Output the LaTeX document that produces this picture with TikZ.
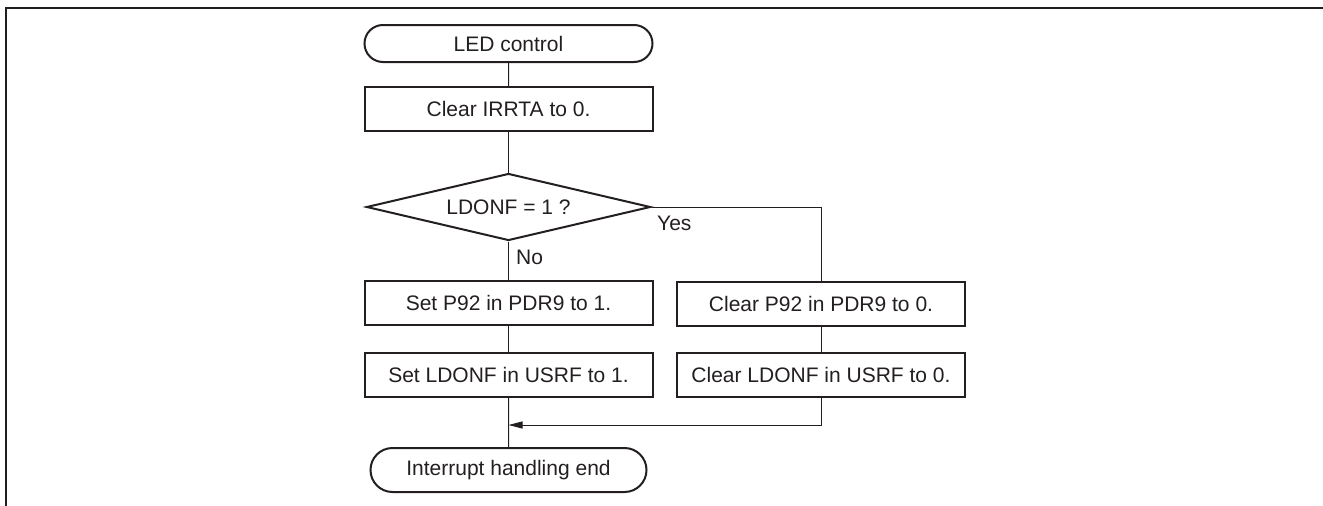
\documentclass[tikz,border=0pt]{standalone}
\usepackage{fontspec}
\setmainfont{Liberation Sans}
\usetikzlibrary{shapes.geometric,shapes.misc,arrows.meta}
\definecolor{ink}{HTML}{231F20}
\begin{document}
\begin{tikzpicture}[x=1pt,y=-1pt,
  every node/.style={font=\fontsize{21}{25}\selectfont, text=ink},
  term/.style={rounded rectangle, draw=ink, line width=2pt, inner sep=0pt},
  proc/.style={rectangle, draw=ink, line width=2pt, inner sep=0pt,
               minimum width=288pt, minimum height=44pt},
  dec/.style={diamond, aspect=4.2, draw=ink, line width=2pt, inner sep=0pt,
              minimum width=284pt, minimum height=67pt},
  flow/.style={draw=ink, line width=1pt},
  lbl/.style={inner sep=0pt, anchor=west}
]
\useasboundingbox (0,0) rectangle (1323,506);

% open frame along the top and left edges
\draw[ink, line width=2.3pt] (6,520) -- (6,8) -- (1340,8);

% flowchart nodes
\node[term, minimum width=288pt, minimum height=37pt] (start) at (508.5,43.5) {LED control};
\node[proc] (irr)  at (508.5,109)   {Clear IRRTA to 0.};
\node[dec]  (chk)  at (508.5,207)   {LDONF = 1 ?};
\node[proc] (setp) at (508.5,302.5) {Set P92 in PDR9 to 1.};
\node[proc] (setl) at (508.5,374.5) {Set LDONF in USRF to 1.};
\node[proc] (clrp) at (821,303.5)   {Clear P92 in PDR9 to 0.};
\node[proc] (clrl) at (821,374.5)   {Clear LDONF in USRF to 0.};
\node[term, minimum width=276pt, minimum height=44pt] (fin) at (508.5,470) {Interrupt handling end};

% branch labels
\node[lbl] (yes) at (657,223) {Yes};
\node[lbl] (no)  at (516,257) {No};

% connectors
\coordinate (join) at (508.5,425);
\draw[flow] (start) -- (irr);
\draw[flow] (irr) -- (chk);
\draw[flow] (chk) -- (setp);
\draw[flow] (setp) -- (setl);
\draw[flow] (setl) -- (fin);
\draw[flow] (chk.east) -| (clrp.north);
\draw[flow] (clrp) -- (clrl);
\draw[flow, -{Triangle[length=14pt,width=7pt]}] (clrl.south) |- (join);
\end{tikzpicture}
\end{document}
